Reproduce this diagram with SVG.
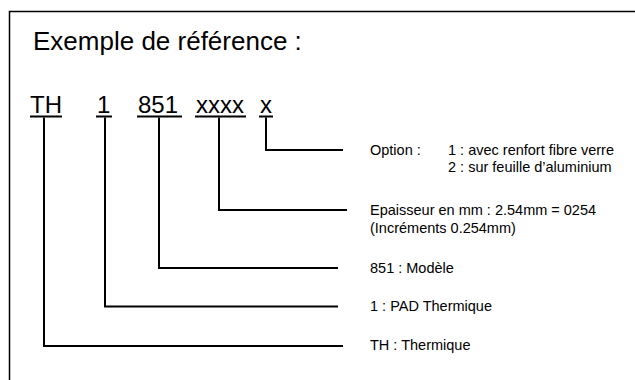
<svg xmlns="http://www.w3.org/2000/svg" width="635" height="380" viewBox="0 0 635 380">
  <style>
    text { font-family: "Liberation Sans", Arial, sans-serif; fill: #000; }
    .title { font-size: 26px; }
    .code { font-size: 24px; }
    .lbl { font-size: 14.5px; }
    .ul { stroke: #000; stroke-width: 2; }
    .conn path { fill: none; stroke: #000; stroke-width: 2; }
  </style>
  <rect x="0" y="0" width="635" height="380" fill="#fff"/>
  <path d="M9.5,385 V11.5 H640" fill="none" stroke="#000" stroke-width="1.5"/>
  <text class="title" x="33" y="50">Exemple de référence :</text>

  <g id="code">
    <g id="seg-th"><text class="code" x="30" y="113">TH</text><line class="ul" x1="30" y1="116.5" x2="62" y2="116.5"/></g>
    <g id="seg-1"><text class="code" x="97" y="113">1</text><line class="ul" x1="96" y1="116.5" x2="112" y2="116.5"/></g>
    <g id="seg-851"><text class="code" x="138" y="113">851</text><line class="ul" x1="137" y1="116.5" x2="182" y2="116.5"/></g>
    <g id="seg-xxxx"><text class="code" x="196" y="113">xxxx</text><line class="ul" x1="195" y1="116.5" x2="246" y2="116.5"/></g>
    <g id="seg-x"><text class="code" x="260" y="113">x</text><line class="ul" x1="259" y1="116.5" x2="273" y2="116.5"/></g>
  </g>

  <g id="connectors" class="conn">
    <path d="M266,117.5 V150 H343"/>
    <path d="M219,117.5 V210 H347"/>
    <path d="M159,117.5 V268 H338"/>
    <path d="M105,117.5 V306.5 H338"/>
    <path d="M44,117.5 V346 H343"/>
  </g>

  <g id="lbl-option">
    <text class="lbl" x="370" y="155">Option :</text>
    <text class="lbl" x="448" y="155">1 : avec renfort fibre verre</text>
    <text class="lbl" x="448" y="172">2 : sur feuille d’aluminium</text>
  </g>
  <g id="lbl-epaisseur">
    <text class="lbl" x="370" y="215">Epaisseur en mm : 2.54mm = 0254</text>
    <text class="lbl" x="370" y="233">(Incréments 0.254mm)</text>
  </g>
  <g id="lbl-modele"><text class="lbl" x="370" y="273">851 : Modèle</text></g>
  <g id="lbl-pad"><text class="lbl" x="370" y="311">1 : PAD Thermique</text></g>
  <g id="lbl-th"><text class="lbl" x="370" y="350">TH : Thermique</text></g>
</svg>
